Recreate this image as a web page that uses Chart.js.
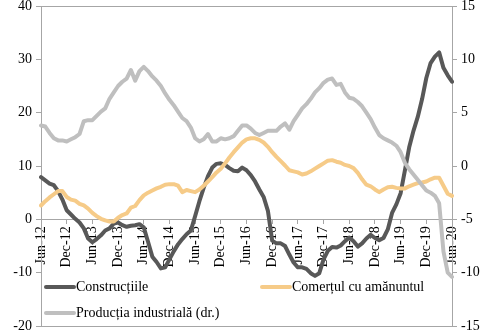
<!DOCTYPE html>
<html>
<head>
<meta charset="utf-8">
<script src="https://cdn.jsdelivr.net/npm/chart.js@4"></script>
<style>
  body { margin: 0; background: #fff; }
  canvas { display: block; }
</style>
</head>
<body>
<canvas id="chart" width="487" height="335"></canvas>
<script>
'use strict'

// lunar, iun-2012 .. iun-2020
const luni = ['Jan', 'Feb', 'Mar', 'Apr', 'May', 'Jun', 'Jul', 'Aug', 'Sep', 'Oct', 'Nov', 'Dec'];
const categorii = [];
for (let k = 5; k <= 8 * 12 + 5; k++) {
    categorii.push(`${luni[k % 12]}-${12 + Math.floor(k / 12)}`);
}

const constructii = [
    7.9, 7.3, 6.7, 6.4, 5.3, 3.7, 1.7, 0.9, 0.1, -0.6, -1.7, -3.6,
    -4.3, -3.7, -3.0, -2.1, -1.7, -0.8, -0.6, -1.1, -1.4, -1.2, -1.1, -0.9,
    -1.5, -4.2, -7.0, -8.0, -9.2, -9.0, -7.5, -6.0, -4.7, -3.7, -2.8, -2.1,
    0.6, 3.4, 5.9, 8.1, 9.7, 10.4, 10.5, 10.2, 9.6, 9.1, 9.0, 9.7,
    9.2, 8.3, 7.1, 5.6, 4.2, 1.6, -4.0, -4.5, -4.5, -5.0, -6.6, -8.1,
    -9.0, -9.0, -9.3, -10.1, -10.6, -10.1, -7.5, -5.9, -5.2, -5.3, -4.9, -4.1,
    -3.4, -4.1, -5.1, -4.5, -3.6, -2.9, -3.5, -3.9, -3.5, -1.9, 1.2, 2.8,
    4.9, 9.2, 13.5, 16.6, 19.2, 22.5, 26.5, 29.3, 30.5, 31.3, 28.4, 27.0,
    25.8
];

const comert = [
    2.6, 3.4, 4.1, 4.7, 5.3, 5.3, 4.2, 3.7, 3.5, 2.9, 2.6, 2.0,
    1.2, 0.6, 0.1, -0.2, -0.4, -0.4, 0.3, 0.8, 1.1, 2.2, 2.5, 3.6,
    4.5, 5.0, 5.4, 5.8, 6.1, 6.5, 6.6, 6.6, 6.3, 5.1, 5.5, 5.3,
    5.1, 5.6, 6.3, 7.1, 7.9, 8.8, 9.5, 10.5, 11.6, 12.6, 13.5, 14.4,
    15.0, 15.2, 15.2, 14.9, 14.4, 13.6, 12.6, 11.7, 10.9, 10.1, 9.2, 9.0,
    8.8, 8.4, 8.6, 9.0, 9.5, 10.0, 10.5, 11.0, 11.1, 10.8, 10.6, 10.2,
    10.0, 9.6, 8.7, 7.5, 6.5, 6.2, 5.6, 5.1, 5.6, 6.0, 6.1, 5.9,
    5.8, 5.8, 6.2, 6.5, 6.8, 6.9, 7.1, 7.5, 7.8, 7.8, 6.3, 4.8,
    4.4
];

// axa din dreapta
const productie = [
    3.8, 3.7, 3.1, 2.6, 2.4, 2.4, 2.3, 2.5, 2.7, 3.0, 4.2, 4.3,
    4.3, 4.7, 5.1, 5.4, 6.3, 6.9, 7.5, 7.9, 8.2, 9.0, 8.0, 8.9,
    9.3, 8.9, 8.4, 8.0, 7.5, 6.8, 6.2, 5.7, 5.1, 4.5, 4.2, 3.6,
    2.6, 2.3, 2.5, 3.0, 2.3, 2.3, 2.6, 2.5, 2.6, 2.8, 3.3, 3.8,
    3.8, 3.5, 3.1, 2.9, 3.1, 3.3, 3.3, 3.3, 3.7, 4.0, 3.4, 4.2,
    4.8, 5.4, 5.8, 6.3, 6.9, 7.3, 7.8, 8.1, 8.2, 7.6, 7.7, 6.9,
    6.4, 6.3, 6.0, 5.6, 5.0, 4.4, 3.6, 2.9, 2.6, 2.4, 2.2, 1.9,
    1.3, 0.3, -0.3, -0.8, -1.3, -1.8, -2.3, -2.5, -2.8, -3.5, -8.0, -10.0,
    -10.4
];

const serii = ['Construcțiile', 'Comerțul cu amănuntul', 'Producția industrială (dr.)'];
const culori = ['#585858', '#f6cb88', '#bfbfbf'];

const axa = '#a6a6a6';
const font = { family: '"Liberation Serif", "DejaVu Serif", serif', size: 14 };

const legendaInterna = {
    id: 'legendaInterna',
    afterDraw(chart) {
        const ctx = chart.ctx;
        const pos = [[46, 287], [262, 287], [46, 313]];
        ctx.save();
        ctx.font = `${font.size}px ${font.family}`;
        ctx.textBaseline = 'middle';
        chart.data.datasets.forEach((ds, i) => {
            const [x, y] = pos[i];
            ctx.strokeStyle = ds.borderColor;
            ctx.lineWidth = 4;
            ctx.lineCap = 'round';
            ctx.beginPath();
            ctx.moveTo(x, y);
            ctx.lineTo(x + 28, y);
            ctx.stroke();
            ctx.fillStyle = '#000';
            ctx.fillText(ds.label, x + 30, y);
        });
        ctx.restore();
    }
};

const linie = (label, data, color, axisId, order) => ({
    label: label,
    data: data,
    yAxisID: axisId,
    borderColor: color,
    backgroundColor: color,
    borderWidth: 4,
    pointRadius: 0,
    tension: 0,
    borderCapStyle: 'round',
    borderJoinStyle: 'round',
    order: order
});

const faraPadding = (s) => {
    s.paddingTop = 0;
    s.paddingBottom = 0;
};

const chart = new Chart(document.getElementById('chart').getContext('2d'), {
    type: 'line',
    data: {
        labels: categorii,
        datasets: [
            linie(serii[0], constructii, culori[0], 'y', 2),
            linie(serii[1], comert, culori[1], 'y', 1),
            linie(serii[2], productie, culori[2], 'y2', 0)
        ]
    },
    options: {
        responsive: false,
        animation: false,
        layout: { padding: { top: 6, bottom: 9, left: 0, right: 0 } },
        plugins: {
            legend: { display: false },
            tooltip: { enabled: false }
        },
        scales: {
            x: {
                position: { y: 0 },
                offset: false,
                border: { color: axa, width: 1 },
                grid: {
                    drawOnChartArea: false,
                    drawTicks: true,
                    tickLength: 4,
                    color: (c) => c.index % 6 === 0 ? axa : 'rgba(0,0,0,0)'
                },
                ticks: {
                    autoSkip: false,
                    minRotation: 90,
                    maxRotation: 90,
                    padding: 3,
                    color: '#000',
                    font: font,
                    callback: (v, i) => i % 6 === 0 ? categorii[i] : ''
                },
                afterFit: (s) => {
                    s.paddingLeft = 0;
                    s.paddingRight = 0;
                }
            },
            y: {
                position: 'left',
                min: -20,
                max: 40,
                border: { color: axa, width: 1 },
                grid: {
                    drawOnChartArea: true,
                    drawTicks: true,
                    tickLength: 5,
                    tickColor: axa,
                    color: (c) => (c.tick.value === 40 || c.tick.value === -20) ? axa : 'rgba(0,0,0,0)'
                },
                ticks: { stepSize: 10, padding: 4, color: '#000', font: font },
                afterFit: (s) => { s.width = 41; faraPadding(s); }
            },
            y2: {
                position: 'right',
                min: -15,
                max: 15,
                border: { color: axa, width: 1 },
                grid: {
                    drawOnChartArea: false,
                    drawTicks: true,
                    tickLength: 5,
                    tickColor: axa
                },
                ticks: { stepSize: 5, padding: 4, color: '#000', font: font },
                afterFit: (s) => { s.width = 35; faraPadding(s); }
            }
        }
    },
    plugins: [legendaInterna]
});
</script>
</body>
</html>
